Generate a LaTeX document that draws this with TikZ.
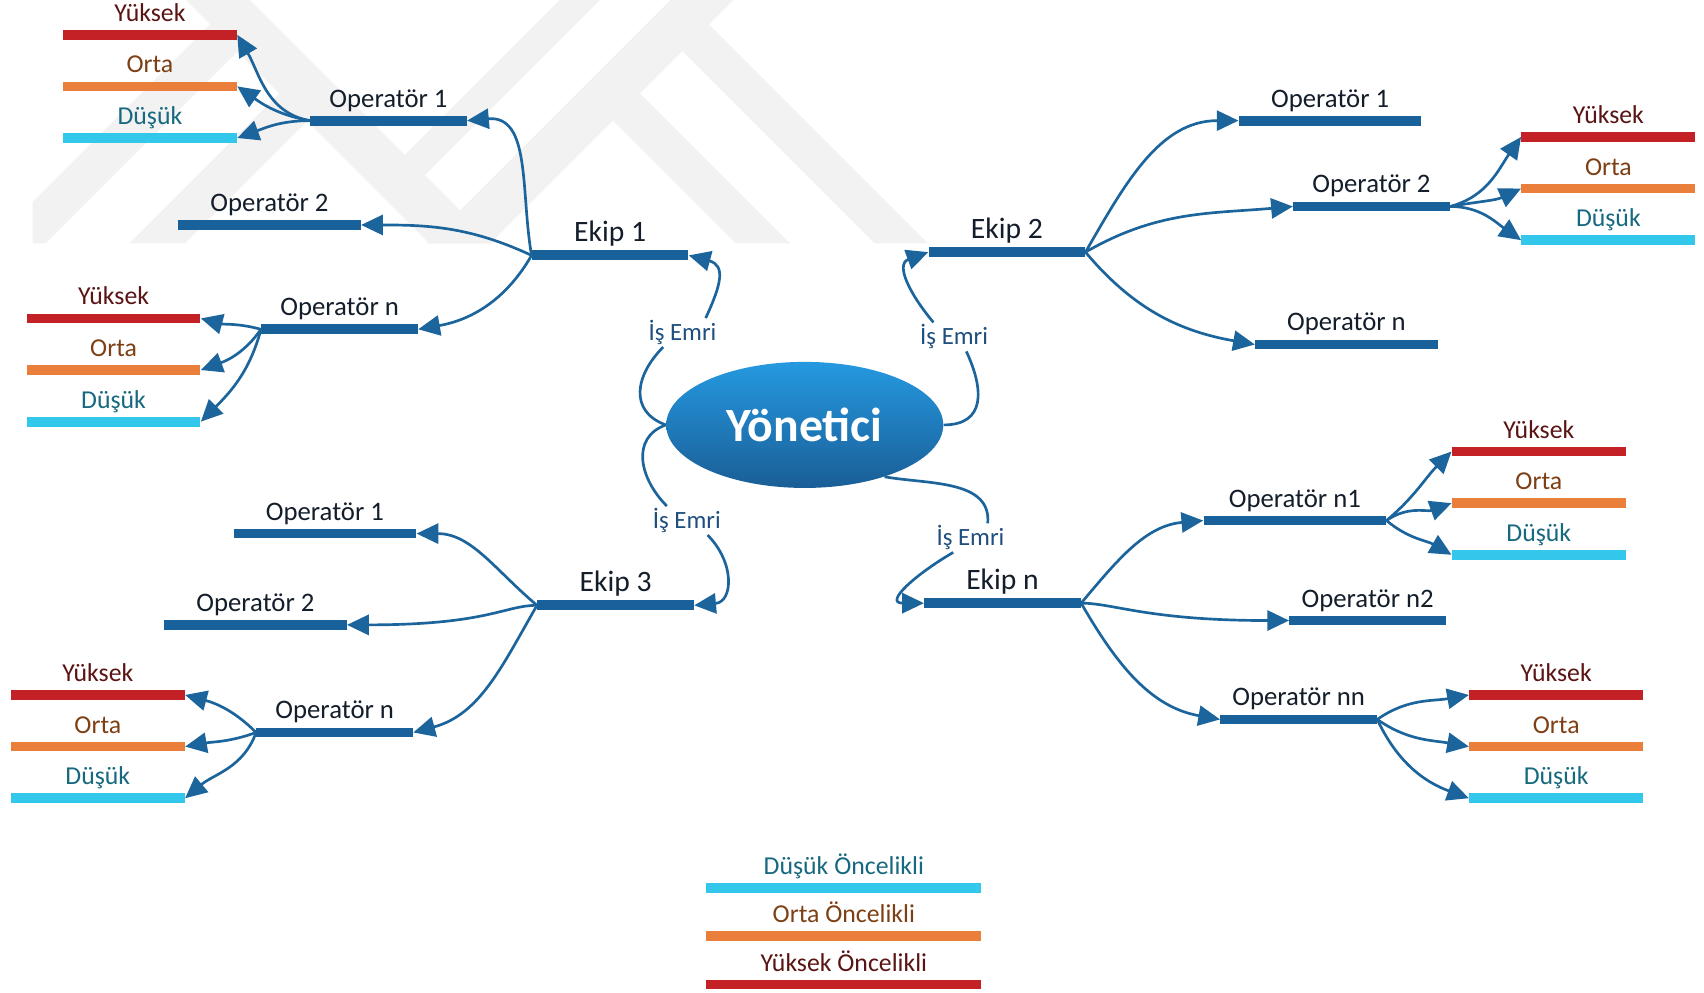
\documentclass[tikz,border=0pt]{standalone}
\usepackage{fontspec}
\setmainfont{Carlito}
\usepackage{xcolor}
\usetikzlibrary{arrows.meta,shapes.geometric}
\definecolor{opblue}{HTML}{18619A}
\definecolor{linkblue}{HTML}{1B649C}
\definecolor{prhigh}{HTML}{C42127}
\definecolor{prmid}{HTML}{E97F3B}
\definecolor{prlow}{HTML}{33C7EC}
\definecolor{hiink}{HTML}{5A1414}
\definecolor{midink}{HTML}{7E3F14}
\definecolor{loink}{HTML}{17697F}
\definecolor{opink}{HTML}{141E2B}
\definecolor{ieink}{HTML}{1F4F7E}
\definecolor{yontop}{HTML}{2599E0}
\definecolor{yonbot}{HTML}{1A5E96}
\definecolor{wmgray}{HTML}{F2F2F2}
\newcommand{\ekfont}{\fontsize{15.5}{18}\selectfont}
\newcommand{\opfont}{\fontsize{14}{16}\selectfont}
\newcommand{\prfont}{\fontsize{13.5}{16}\selectfont}
\newcommand{\iefont}{\fontsize{13}{15}\selectfont}
\newcommand{\yonfont}{\fontsize{25}{28}\selectfont}

\begin{document}
\begin{tikzpicture}[x=0.02cm, y=-0.02cm, label distance=1.45mm,
  bar/.style={rectangle,inner sep=0pt,minimum height=1.8mm,minimum width=#1},
  opbar/.style={bar=#1,fill=opblue}, opbar/.default=2.88cm,
  hibar/.style={bar=#1,fill=prhigh}, hibar/.default=3.2cm,
  midbar/.style={bar=#1,fill=prmid}, midbar/.default=3.2cm,
  lobar/.style={bar=#1,fill=prlow}, lobar/.default=3.2cm,
  lbl/.style={inner sep=0pt,text depth=0pt},
  eklbl/.style={lbl,font=\ekfont,text=opink},
  oplbl/.style={lbl,font=\opfont,text=opink},
  hilbl/.style={lbl,font=\prfont,text=hiink},
  midlbl/.style={lbl,font=\prfont,text=midink},
  lolbl/.style={lbl,font=\prfont,text=loink},
  ielbl/.style={font=\iefont,text=ieink,inner sep=1pt},
  ieline/.style={linkblue,line width=1.4pt},
  link/.style={-{Triangle[length=4mm,width=3.7mm]},linkblue,line width=1.4pt}]
 \fill[white] (0,0) rectangle (1568,913);
 \useasboundingbox (0,0) rectangle (1568,913);
 % watermark
 \begin{scope}
  \clip (30,0) rectangle (874,224);
  \fill[wmgray] (617,0) -- (675,0) -- (451,224) -- (393,224) -- cycle;
  \fill[wmgray] (645,15) -- (854,224) -- (805,224) -- (620.5,39.5) -- cycle;
  \fill[wmgray] (581.5,78.5) -- (727,224) -- (677,224) -- (556.5,103.5) -- cycle;
  \fill[wmgray] (171,0) -- (230,0) -- (454,224) -- (395,224) -- cycle;
  \fill[wmgray] (201,15) -- (226,40) -- (42,224) -- (-8,224) -- cycle;
  \fill[wmgray] (264.5,78.5) -- (290,104) -- (170,224) -- (119,224) -- cycle;
  \fill[wmgray] (365,150) -- (383.5,168.5) -- (552,0) -- (515,0) -- cycle;
 \end{scope}
 % manager
 \node[ellipse,minimum width=5.1cm,minimum height=2.32cm,inner sep=0pt,
   top color=yontop,bottom color=yonbot,text=white,font=\yonfont\bfseries] (yon) at (740.5,391) {Yönetici};
 % teams and operators
 \node[opbar,label={[eklbl]above:Ekip 1}] (e1) at (561.5,235) {};
 \node[opbar,label={[oplbl]above:Operatör 1}] (e1o1) at (357.5,111) {};
 \node[opbar=3.36cm,label={[oplbl]above:Operatör 2}] (e1o2) at (248,207) {};
 \node[opbar,label={[oplbl]above:Operatör n}] (e1on) at (312.5,303) {};
 \node[opbar,label={[eklbl]above:Ekip 2}] (e2) at (926.5,232) {};
 \node[opbar=3.36cm,label={[oplbl]above:Operatör 1}] (e2o1) at (1224,111) {};
 \node[opbar,label={[oplbl]above:Operatör 2}] (e2o2) at (1262,190) {};
 \node[opbar=3.36cm,label={[oplbl]above:Operatör n}] (e2on) at (1239,317) {};
 \node[opbar,label={[eklbl]above:Ekip 3}] (e3) at (566.5,557) {};
 \node[opbar=3.36cm,label={[oplbl]above:Operatör 1}] (e3o1) at (299,491) {};
 \node[opbar=3.36cm,label={[oplbl]above:Operatör 2}] (e3o2) at (235,575) {};
 \node[opbar,label={[oplbl]above:Operatör n}] (e3on) at (308,674) {};
 \node[opbar,label={[eklbl]above:Ekip n}] (en) at (922.5,555) {};
 \node[opbar=3.36cm,label={[oplbl]above:Operatör n1}] (eno1) at (1191.5,479) {};
 \node[opbar,label={[oplbl]above:Operatör n2}] (eno2) at (1258.5,571) {};
 \node[opbar,label={[oplbl]above:Operatör nn}] (enonn) at (1195,662) {};
 % priority triples
 \foreach \g/\x/\y in {A/138/32, B/104.5/293, C/1480/126, D/90/639.5, E/1416/415.5, F/1432/639.5}{
   \node[hibar,label={[hilbl]above:Yüksek}] (\g-hi) at ({\x},{\y}) {};
   \node[midbar,label={[midlbl]above:Orta}] (\g-mid) at ({\x},{\y+47.5}) {};
   \node[lobar,label={[lolbl]above:Düşük}] (\g-lo) at ({\x},{\y+95}) {};
 }
 % work orders
 \node[ielbl] (ie1) at (628,306) {İş Emri};
 \node[ielbl] (ie2) at (878,310) {İş Emri};
 \node[ielbl] (ie3) at (632,479) {İş Emri};
 \node[ielbl] (ie4) at (893,495) {İş Emri};
 \draw[ieline] (yon.west) to[out=160,in=-135,looseness=1.3] (ie1.217);
 \draw[link] (ie1.32) to[out=65,in=-15,looseness=1.5] (e1.east);
 \draw[ieline] (yon.east) to[out=0,in=-65,looseness=1.4] (ie2.-50);
 \draw[link] (ie2.145) to[out=130,in=200,looseness=1.3] (e2.west);
 \draw[ieline] (yon.west) to[out=200,in=135,looseness=1.2] (ie3.144);
 \draw[link] (ie3.-35) to[out=-45,in=5,looseness=1.4] (e3.east);
 \draw[ieline] (yon.-33) to[out=-10,in=85] (ie4.40);
 \draw[link] (ie4.220) to[out=-150,in=180,looseness=1.8] (en.west);
 % Ekip 1
 \draw[link] (e1.west) to[out=100,in=5,looseness=1.1] (e1o1.east);
 \draw[link] (e1.west) to[out=155,in=0] (e1o2.east);
 \draw[link] (e1.west) to[out=-120,in=10] (e1on.east);
 \draw[link] (e1o1.west) to[out=170,in=-60] (A-hi.east);
 \draw[link] (e1o1.west) to[out=170,in=-35] (A-mid.east);
 \draw[link] (e1o1.west) to[out=180,in=20] (A-lo.east);
 \draw[link] (e1on.west) to[out=165,in=-15] (B-hi.east);
 \draw[link] (e1on.west) to[out=-125,in=20] (B-mid.east);
 \draw[link] (e1on.west) to[out=-105,in=45] (B-lo.east);
 % Ekip 2
 \draw[link] (e2.east) to[out=60,in=180] (e2o1.west);
 \draw[link] (e2.east) to[out=30,in=185] (e2o2.west);
 \draw[link] (e2.east) to[out=-50,in=170] (e2on.west);
 \draw[link] (e2o2.east) to[out=15,in=-125] (C-hi.west);
 \draw[link] (e2o2.east) to[out=10,in=205] (C-mid.west);
 \draw[link] (e2o2.east) to[out=0,in=145] (C-lo.west);
 % Ekip 3
 \draw[link] (e3.west) to[out=140,in=0] (e3o1.east);
 \draw[link] (e3.west) .. controls +(-30,0) and +(130,0) .. (e3o2.east);
 \draw[link] (e3.west) to[out=-120,in=15] (e3on.east);
 \draw[link] (e3on.west) to[out=135,in=-15] (D-hi.east);
 \draw[link] (e3on.west) to[out=-160,in=10] (D-mid.east);
 \draw[link] (e3on.west) to[out=-110,in=40] (D-lo.east);
 % Ekip n
 \draw[link] (en.east) to[out=50,in=185] (eno1.west);
 \draw[link] (en.east) .. controls +(30,0) and +(-130,0) .. (eno2.west);
 \draw[link] (en.east) to[out=-60,in=170] (enonn.west);
 \draw[link] (eno1.east) to[out=40,in=-135] (E-hi.west);
 \draw[link] (eno1.east) to[out=35,in=200] (E-mid.west);
 \draw[link] (eno1.east) to[out=-40,in=150] (E-lo.west);
 \draw[link] (enonn.east) to[out=35,in=190] (F-hi.west);
 \draw[link] (enonn.east) to[out=-35,in=170] (F-mid.west);
 \draw[link] (enonn.east) to[out=-65,in=160] (F-lo.west);
 % legend
 \node[lobar=5.06cm,label={[lolbl]above:Düşük Öncelikli}] (lglo) at (776.5,817) {};
 \node[midbar=5.06cm,label={[midlbl]above:Orta Öncelikli}] (lgmid) at (776.5,861.5) {};
 \node[hibar=5.06cm,label={[hilbl]above:Yüksek Öncelikli}] (lghi) at (776.5,906) {};
\end{tikzpicture}
\end{document}
